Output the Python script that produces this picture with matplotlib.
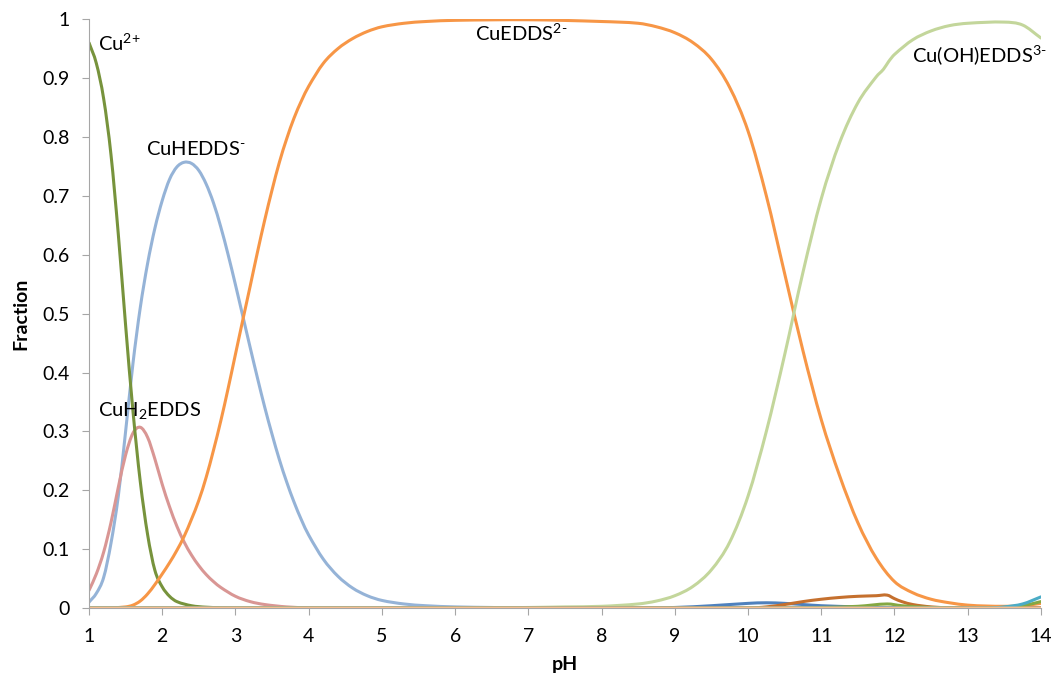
import matplotlib
matplotlib.use("Agg")
import matplotlib.pyplot as plt
from matplotlib.path import Path
from matplotlib.patches import PathPatch

plt.rcParams['font.family'] = ['Lato', 'DejaVu Sans']
plt.rcParams['mathtext.default'] = 'regular'

# Cu2+
ph_cu = [1.0, 1.1, 1.2, 1.3, 1.4, 1.5, 1.6, 1.7, 1.8, 1.9, 2.0, 2.1, 2.2, 2.4, 2.6, 3.0, 14.0]
frac_cu = [0.96, 0.925, 0.865, 0.77, 0.635, 0.48, 0.335, 0.215, 0.125, 0.064, 0.036, 0.02, 0.011,
           0.004, 0.0015, 0.0, 0.0]

# CuH2EDDS
ph_h2 = [1.0, 1.1, 1.2, 1.3, 1.4, 1.5, 1.6, 1.7, 1.8, 1.9, 2.0, 2.1, 2.2, 2.3, 2.4, 2.5, 2.6,
         2.7, 2.8, 3.0, 3.2, 3.4, 3.7, 4.0, 4.5, 14.0]
frac_h2 = [0.03, 0.058, 0.095, 0.145, 0.205, 0.26, 0.297, 0.307, 0.29, 0.253, 0.21, 0.172, 0.139,
           0.112, 0.09, 0.072, 0.057, 0.045, 0.035, 0.02, 0.011, 0.006, 0.002, 0.0005, 0.0, 0.0]

# CuHEDDS-
ph_h = [1.0, 1.1, 1.2, 1.3, 1.4, 1.5, 1.6, 1.7, 1.8, 1.9, 2.0, 2.1, 2.2, 2.3, 2.4, 2.5, 2.6, 2.7,
        2.8, 2.9, 3.0, 3.1, 3.2, 3.3, 3.4, 3.5, 3.6, 3.7, 3.8, 3.9, 4.0, 4.2, 4.4, 4.6, 4.8, 5.0,
        5.3, 5.6, 6.0, 6.5, 7.0, 14.0]
frac_h = [0.01, 0.025, 0.052, 0.11, 0.19, 0.30, 0.415, 0.51, 0.585, 0.645, 0.692, 0.728, 0.749,
          0.757, 0.755, 0.743, 0.72, 0.688, 0.647, 0.6, 0.549, 0.496, 0.443, 0.391, 0.341, 0.295,
          0.252, 0.214, 0.18, 0.15, 0.124, 0.083, 0.054, 0.034, 0.021, 0.013, 0.007, 0.004, 0.002,
          0.001, 0.0, 0.0]

# CuEDDS2-
ph_edds = [1.0, 1.3, 1.5, 1.6, 1.7, 1.8, 1.9, 2.0, 2.1, 2.2, 2.3, 2.4, 2.5, 2.6, 2.7, 2.8, 2.9,
           3.0, 3.1, 3.2, 3.3, 3.4, 3.5, 3.6, 3.7, 3.8, 3.9, 4.0, 4.2, 4.4, 4.6, 4.8, 5.0, 5.3,
           5.6, 6.0, 7.0, 8.0, 8.5, 8.75, 9.0, 9.25, 9.5, 9.75, 10.0, 10.25, 10.5, 10.75, 11.0,
           11.25, 11.5, 11.75, 12.0, 12.25, 12.5, 12.75, 13.0, 13.25, 13.5, 13.75, 14.0]
frac_edds = [0.0, 0.0005, 0.002, 0.005, 0.012, 0.024, 0.04, 0.058, 0.077, 0.098, 0.122, 0.151,
             0.183, 0.222, 0.268, 0.318, 0.373, 0.431, 0.489, 0.546, 0.604, 0.659, 0.71, 0.757,
             0.797, 0.832, 0.861, 0.886, 0.925, 0.95, 0.967, 0.979, 0.987, 0.993, 0.996, 0.998,
             0.999, 0.996, 0.993, 0.987, 0.977, 0.96, 0.932, 0.884, 0.81, 0.70, 0.568, 0.437,
             0.32, 0.225, 0.145, 0.085, 0.045, 0.026, 0.015, 0.009, 0.005, 0.0035, 0.003, 0.004,
             0.008]

# Cu(OH)EDDS3-
ph_oh = [1.0, 6.0, 7.0, 7.5, 8.0, 8.5, 8.75, 9.0, 9.25, 9.5, 9.75, 10.0, 10.25, 10.5, 10.75, 11.0,
         11.25, 11.5, 11.75, 11.85, 11.92, 12.0, 12.25, 12.5, 12.75, 13.0, 13.5, 13.75, 14.0]
frac_oh = [0.0, 0.0, 0.001, 0.002, 0.003, 0.007, 0.012, 0.021, 0.037, 0.065, 0.112, 0.19, 0.30,
           0.43, 0.57, 0.695, 0.79, 0.858, 0.902, 0.915, 0.928, 0.94, 0.965, 0.98, 0.989, 0.993,
           0.995, 0.99, 0.968]

# minor species
ph_m1 = [1.0, 8.5, 9.0, 9.5, 10.0, 10.25, 10.5, 10.75, 11.0, 11.5, 12.0, 12.5, 14.0]
frac_m1 = [0.0, 0.0, 0.001, 0.004, 0.008, 0.009, 0.008, 0.006, 0.004, 0.002, 0.0005, 0.0, 0.0]

ph_m2 = [1.0, 10.0, 10.25, 10.5, 10.75, 11.0, 11.25, 11.5, 11.75, 11.9, 12.0, 12.1, 12.25, 12.5,
         12.75, 13.0, 14.0]
frac_m2 = [0.0, 0.0, 0.002, 0.006, 0.011, 0.015, 0.018, 0.02, 0.021, 0.022, 0.016, 0.011, 0.006,
           0.002, 0.0005, 0.0, 0.0]

ph_m3 = [1.0, 10.5, 11.0, 11.5, 11.9, 12.1, 12.5, 13.0, 13.5, 13.75, 14.0]
frac_m3 = [0.0, 0.0, 0.001, 0.003, 0.007, 0.004, 0.001, 0.0, 0.001, 0.004, 0.011]

ph_m4 = [1.0, 13.25, 13.5, 13.75, 14.0]
frac_m4 = [0.0, 0.0, 0.002, 0.007, 0.019]

ph_m5 = [1.0, 14.0]
frac_m5 = [0.0, 0.0]


def smooth_line(ax, xs, ys, color, lw=2.2):
    """Excel-style smoothed line: cubic Bezier segments through the points."""
    n = len(xs)
    verts = [(xs[0], ys[0])]
    codes = [Path.MOVETO]
    for i in range(n - 1):
        x0, y0 = xs[max(i - 1, 0)], ys[max(i - 1, 0)]
        x1, y1 = xs[i], ys[i]
        x2, y2 = xs[i + 1], ys[i + 1]
        x3, y3 = xs[min(i + 2, n - 1)], ys[min(i + 2, n - 1)]
        d = x2 - x1
        s1 = (y2 - y0) / (x2 - x0) if x2 != x0 else 0
        s2 = (y3 - y1) / (x3 - x1) if x3 != x1 else 0
        c1 = (x1 + d / 3, y1 + s1 * d / 3)
        c2 = (x2 - d / 3, y2 - s2 * d / 3)
        verts += [c1, c2, (x2, y2)]
        codes += [Path.CURVE4] * 3
    ax.add_patch(PathPatch(Path(verts, codes), fill=False, edgecolor=color, lw=lw,
                           capstyle='round', joinstyle='round'))


fig = plt.figure(figsize=(10.57, 6.84), dpi=100)
ax = fig.add_axes([0.0842, 0.111, 0.9006, 0.861])

smooth_line(ax, ph_h, frac_h, '#95B3D7')
smooth_line(ax, ph_h2, frac_h2, '#D99694')
smooth_line(ax, ph_cu, frac_cu, '#77933C')
smooth_line(ax, ph_edds, frac_edds, '#F79646')
smooth_line(ax, ph_oh, frac_oh, '#C3D69B')
smooth_line(ax, ph_m1, frac_m1, '#4F81BD')
smooth_line(ax, ph_m2, frac_m2, '#C5702E')
smooth_line(ax, ph_m3, frac_m3, '#84A843')
smooth_line(ax, ph_m4, frac_m4, '#4BACC6')
smooth_line(ax, ph_m5, frac_m5, '#FAC090')

ax.set_xlim(1, 14)
ax.set_ylim(0, 1)
ax.set_xticks(range(1, 15))
ax.set_yticks([i / 10 for i in range(11)])
ax.set_yticklabels(['0'] + ['0.%d' % i for i in range(1, 10)] + ['1'])

for s in ['top', 'right']:
    ax.spines[s].set_visible(False)
for s in ['left', 'bottom']:
    ax.spines[s].set_color('#A6A6A6')
ax.tick_params(axis='both', colors='#A6A6A6', labelcolor='black', labelsize=14,
               length=5, direction='out')
ax.tick_params(axis='x', pad=9)
ax.tick_params(axis='y', pad=9)

ax.set_xlabel('pH', fontsize=14, fontweight='bold', labelpad=8)
ax.set_ylabel('Fraction', fontsize=14, fontweight='bold', labelpad=9)

fs = 14.5
ax.text(1.12, 0.96, 'Cu$^{2{+}}$', fontsize=fs, va='center', ha='left')
ax.text(1.78, 0.78, 'CuHEDDS$^{\u2010}$', fontsize=fs, va='center', ha='left')
ax.text(1.12, 0.336, 'CuH$_{2}$EDDS', fontsize=fs, va='center', ha='left')
ax.text(6.27, 0.976, 'CuEDDS$^{2\u2010}$', fontsize=fs, va='center', ha='left')
ax.text(12.24, 0.939, 'Cu(OH)EDDS$^{3\u2010}$', fontsize=fs, va='center', ha='left')

fig.savefig('out.png', dpi=100)
